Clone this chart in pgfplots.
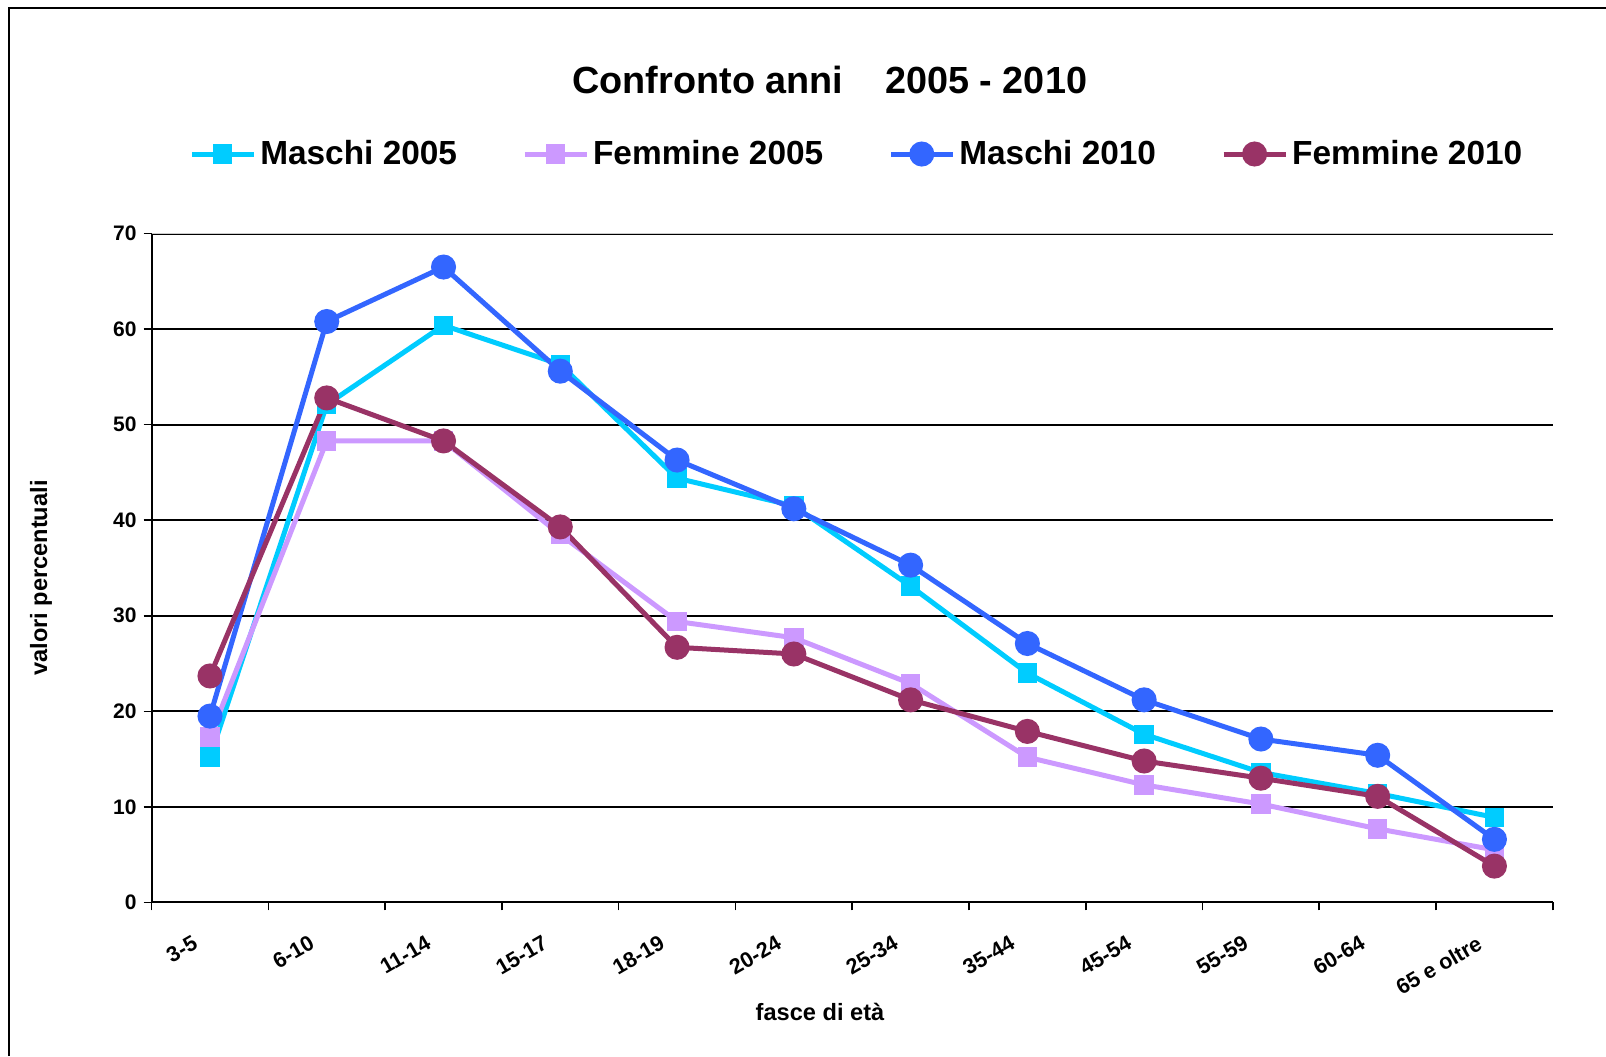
\documentclass[border=0pt]{standalone}
\usepackage{pgfplots}
\pgfplotsset{compat=1.18}
\usepackage{fontspec}
\setmainfont{Liberation Sans}

\definecolor{mas05}{HTML}{00CCFF}
\definecolor{fem05}{HTML}{CC99FF}
\definecolor{mas10}{HTML}{3366FF}
\definecolor{fem10}{HTML}{993366}

\begin{document}
\begin{tikzpicture}
\useasboundingbox (0pt,0pt) rectangle (803pt,528pt);
% frame (only left and top edges are visible)
\draw[line width=1pt] (4.7pt,0pt) -- (4.7pt,523.8pt) -- (803pt,523.8pt);

\begin{axis}[
  at={(75.8pt,76.8pt)}, anchor=south west,
  scale only axis,
  width=700.6pt, height=334.4pt,
  xmin=-0.5, xmax=11.5,
  ymin=0, ymax=70,
  axis x line*=bottom, axis y line*=left,
  axis line style={line width=1pt},
  ytick={0,10,...,70},
  ymajorgrids,
  grid style={line width=1pt, black},
  major tick length=4pt,
  minor tick length=4pt,
  tick style={line width=0.8pt, black},
  tick align=outside,
  xtick={0,...,11},
  xticklabels={3-5,6-10,11-14,15-17,18-19,20-24,25-34,35-44,45-54,55-59,60-64,65 e oltre},
  x tick style={draw=none},
  minor xtick={-0.5,0.5,...,11.5},
  minor x tick style={draw=black, line width=0.8pt},
  xticklabel style={font=\fontsize{10.8pt}{12pt}\selectfont\bfseries, xshift=-8pt, yshift=-7.3pt, rotate=30, anchor=north east},
  yticklabel style={font=\fontsize{10.5pt}{12pt}\selectfont\bfseries},
  /pgf/number format/assume math mode=true,
  xlabel={fasce di età},
  ylabel={valori percentuali},
  xlabel style={font=\fontsize{11.8pt}{13pt}\selectfont\bfseries, at={(axis description cs:0.477,-0.164)}, anchor=center},
  ylabel style={font=\fontsize{11.8pt}{13pt}\selectfont\bfseries, at={(axis description cs:-0.079,0.485)}, anchor=center, rotate=0},
  title={Confronto anni\hspace{21pt}2005 - 2010},
  title style={font=\fontsize{18.9pt}{22pt}\selectfont\bfseries, at={(axis description cs:0.484,1.212)}, anchor=center},
  legend columns=4,
  legend style={draw=none, fill=none, at={(axis description cs:0.504,1.119)}, anchor=center,
    font=\fontsize{16.7pt}{19pt}\selectfont\bfseries,
    /tikz/every even column/.append style={column sep=30.5pt},
    /tikz/every odd column/.append style={column sep=0pt}},
  legend image code/.code={\draw[#1, mark repeat=2, mark phase=2] plot coordinates {(0pt,0pt) (15.5pt,0pt) (31pt,0pt)};},
  every axis plot/.append style={line width=2.5pt},
  clip=false,
]
\draw[line width=0.8pt, black!20] (axis cs:-0.5,70) -- (axis cs:11.5,70);

\addplot[color=mas05, mark=square*, mark size=3.6pt, mark options={solid}]
coordinates {(0,15.2) (1,52.1) (2,60.4) (3,56.3) (4,44.4) (5,41.5) (6,33.1) (7,24.0) (8,17.6) (9,13.6) (10,11.4) (11,8.9)};
\addlegendentry{Maschi 2005}

\addplot[color=fem05, mark=square*, mark size=3.6pt, mark options={solid}]
coordinates {(0,17.3) (1,48.3) (2,48.3) (3,38.5) (4,29.4) (5,27.7) (6,22.9) (7,15.2) (8,12.3) (9,10.3) (10,7.7) (11,5.5)};
\addlegendentry{Femmine 2005}

\addplot[color=mas10, mark=*, mark size=5pt, mark options={solid}]
coordinates {(0,19.5) (1,60.8) (2,66.5) (3,55.6) (4,46.3) (5,41.2) (6,35.3) (7,27.1) (8,21.2) (9,17.1) (10,15.4) (11,6.6)};
\addlegendentry{Maschi 2010}

\addplot[color=fem10, mark=*, mark size=5pt, mark options={solid}]
coordinates {(0,23.7) (1,52.8) (2,48.3) (3,39.3) (4,26.7) (5,26.0) (6,21.2) (7,17.9) (8,14.8) (9,13.0) (10,11.1) (11,3.8)};
\addlegendentry{Femmine 2010}
\end{axis}
\end{tikzpicture}
\end{document}
